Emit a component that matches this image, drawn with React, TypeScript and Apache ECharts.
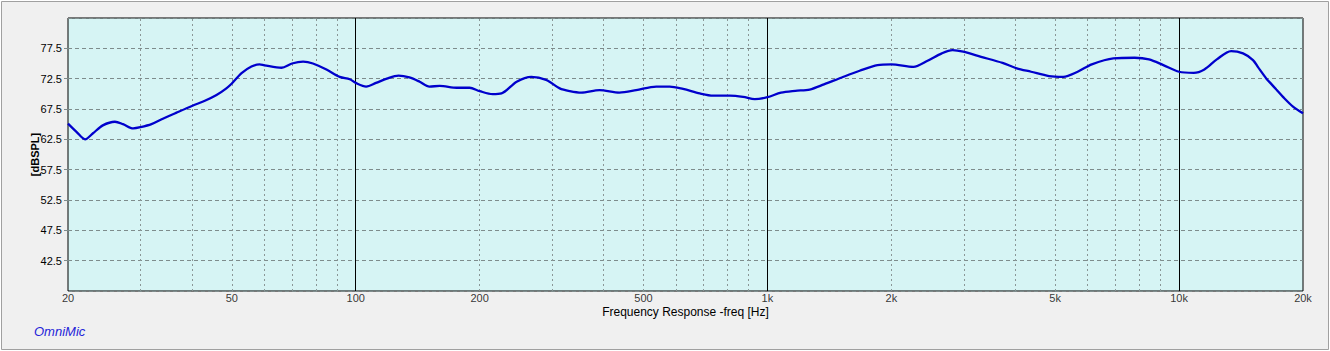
import React, { useEffect, useRef } from 'react';
import * as echarts from 'echarts';

const freqHz = [20, 21, 22, 23, 24.3, 26, 27.2, 28.8, 30, 31.9, 34, 36.7, 40, 43, 45.9, 48.5, 50, 52.8, 55.8, 58.4, 60, 66, 70, 74.5, 78.7, 84.9, 91.4, 96.7, 100, 106, 112, 119, 127, 135, 143, 151, 160, 176, 189, 200, 215, 226, 246, 267, 290, 313, 331, 353, 391, 437, 480, 537, 579, 624, 685, 738, 810, 873, 932, 1000, 1079, 1169, 1267, 1372, 1516, 1675, 1851, 2000, 2262, 2449, 2652, 2817, 2990, 3304, 3725, 4034, 4370, 4830, 5232, 5670, 6137, 6923, 7800, 8452, 9157, 10000, 10850, 11520, 12350, 13380, 14300, 15120, 15550, 16300, 16760, 17230, 17880, 18910, 20000];
const splDb = [65.1, 63.7, 62.5, 63.5, 64.8, 65.4, 65.0, 64.3, 64.5, 65.0, 65.9, 66.9, 68.0, 68.85, 69.8, 70.9, 71.7, 73.4, 74.5, 74.85, 74.7, 74.3, 75.0, 75.3, 75.0, 74.0, 72.8, 72.4, 71.8, 71.2, 71.8, 72.5, 73.0, 72.7, 72.0, 71.2, 71.3, 71.0, 71.0, 70.45, 69.95, 70.07, 72.0, 72.8, 72.3, 70.9, 70.45, 70.2, 70.6, 70.2, 70.6, 71.2, 71.2, 70.8, 70.07, 69.7, 69.7, 69.5, 69.13, 69.45, 70.2, 70.5, 70.7, 71.55, 72.7, 73.8, 74.74, 74.86, 74.46, 75.45, 76.67, 77.2, 76.94, 76.1, 75.1, 74.2, 73.64, 72.93, 72.81, 73.64, 74.86, 75.85, 75.95, 75.68, 74.74, 73.64, 73.47, 74.03, 75.68, 77.05, 76.67, 75.57, 74.4, 72.5, 71.6, 70.7, 69.5, 67.9, 66.8];

const xLabelFreqs = [20, 50, 100, 200, 500, 1000, 2000, 5000, 10000, 20000];
const xLabelTexts = ['20', '50', '100', '200', '500', '1k', '2k', '5k', '10k', '20k'];
const majorGridFreqs = [100, 1000, 10000];
const minorGridFreqs = [30, 40, 50, 60, 70, 80, 90, 200, 300, 400, 500, 600, 700, 800, 900, 2000, 3000, 4000, 5000, 6000, 7000, 8000, 9000];
const yMin = 37.5;
const yMax = 82.5;
const yStep = 5;

const FONT = 'Arial, "Liberation Sans", sans-serif';

export default function App() {
  const ref = useRef<HTMLDivElement>(null);
  useEffect(() => {
    const chart = echarts.init(ref.current as HTMLDivElement, null, { renderer: 'svg' });
    const gridLines = [
      ...minorGridFreqs.map((f) => ({
        xAxis: f,
        lineStyle: { color: '#8a9696', type: [2, 3], width: 1 },
      })),
      ...majorGridFreqs.map((f) => ({
        xAxis: f,
        lineStyle: { color: '#000000', type: 'solid', width: 1 },
      })),
    ];
    chart.setOption({
      animation: false,
      backgroundColor: '#ffffff',
      textStyle: { fontFamily: FONT },
      graphic: [
        {
          type: 'rect',
          z: -10,
          silent: true,
          shape: { x: 1.5, y: 1.5, width: 1327, height: 348 },
          style: { fill: '#F0F0F0', stroke: '#A0A0A0', lineWidth: 1 },
        },
        {
          type: 'text',
          left: 34,
          top: 325,
          style: {
            text: 'OmniMic',
            fontFamily: FONT,
            fontSize: 13,
            fontStyle: 'italic',
            fill: '#2424D8',
          },
        },
      ],
      grid: {
        left: 68,
        top: 18,
        right: 27,
        bottom: 60,
        show: true,
        backgroundColor: '#D6F4F4',
        borderColor: '#000000',
        borderWidth: 1,
      },
      xAxis: {
        type: 'log',
        logBase: 10,
        min: 20,
        max: 20000,
        axisLine: { show: false },
        axisTick: { show: false },
        axisLabel: { show: false },
        splitLine: { show: false },
        name: 'Frequency Response -freq [Hz]',
        nameLocation: 'middle',
        nameGap: 15,
        nameMoveOverlap: false,
        nameTextStyle: { fontSize: 12, color: '#000', fontFamily: FONT },
      },
      yAxis: {
        type: 'value',
        min: yMin,
        max: yMax,
        interval: yStep,
        axisLine: { show: false },
        axisTick: { show: true, length: 4, lineStyle: { color: '#7e8c8c' } },
        axisLabel: {
          fontSize: 11,
          color: '#000',
          margin: 6,
          showMinLabel: false,
          showMaxLabel: false,
          fontFamily: FONT,
          formatter: (v: number) => v.toFixed(1),
        },
        splitLine: { show: true, lineStyle: { color: '#7e8c8c', type: [4, 3], width: 1 } },
        name: '[dBSPL]',
        nameLocation: 'middle',
        nameGap: 28,
        nameMoveOverlap: false,
        nameRotate: 90,
        nameTextStyle: { fontSize: 11, fontWeight: 'bold', color: '#000', fontFamily: FONT },
      },
      series: [
        {
          type: 'scatter',
          z: 1,
          silent: true,
          clip: false,
          symbolSize: 1,
          itemStyle: { color: 'transparent' },
          data: xLabelFreqs.map((f, i) => ({
            value: [f, yMin],
            label: {
              show: true,
              position: 'bottom',
              distance: 1,
              formatter: xLabelTexts[i],
              color: '#000',
              fontSize: 11,
              fontFamily: FONT,
            },
          })),
          markLine: {
            silent: true,
            symbol: ['none', 'none'],
            label: { show: false },
            animation: false,
            data: gridLines,
          },
        },
        {
          type: 'line',
          z: 5,
          silent: true,
          showSymbol: false,
          smooth: 0.3,
          lineStyle: { color: '#0000CC', width: 2.3 },
          data: freqHz.map((f, i) => [f, splDb[i]]),
        },
      ],
    });
    return () => chart.dispose();
  }, []);
  return (
    <div
      ref={ref}
      style={{ position: 'fixed', left: 0, top: 0, width: 1330, height: 351 }}
    />
  );
}
